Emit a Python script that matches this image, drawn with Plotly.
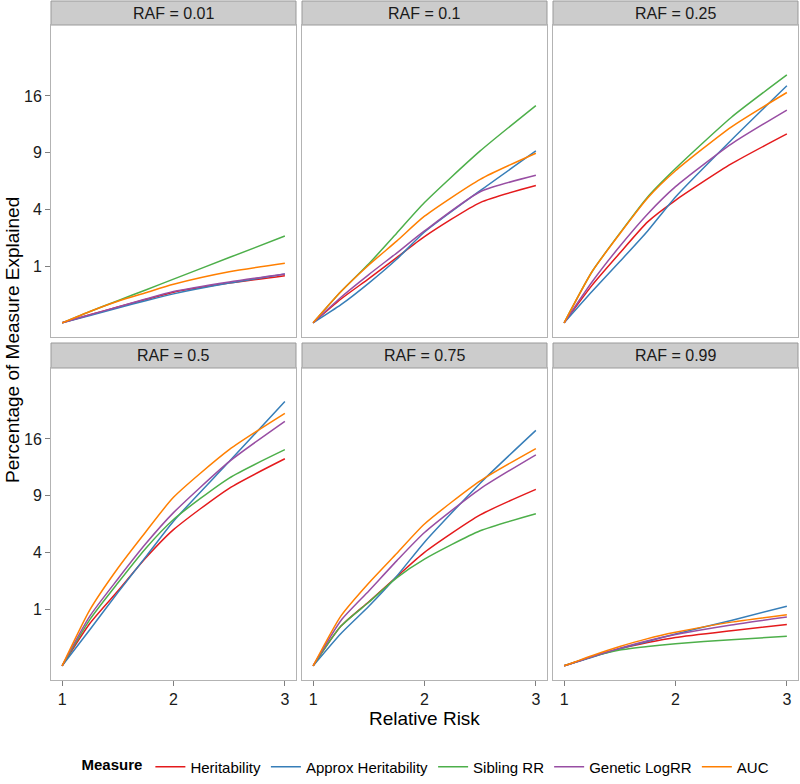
import numpy as np
import plotly.graph_objects as go

# ---- data (percentage of measure explained) ----
relative_risk = [1, 1.25, 1.5, 1.75, 2, 2.5, 3]
raf_labels = ["RAF = 0.01", "RAF = 0.1", "RAF = 0.25", "RAF = 0.5", "RAF = 0.75", "RAF = 0.99"]
measures = ["Heritability", "Approx Heritability", "Sibling RR", "Genetic LogRR", "AUC"]
colors = ["#E41A1C", "#377EB8", "#4DAF4A", "#984EA3", "#FF7F00"]

# one row per RAF panel (0.01, 0.1, 0.25, 0.5, 0.75, 0.99)
heritability = [
    [0, 0.020, 0.078, 0.168, 0.292, 0.490, 0.689],
    [0, 0.176, 0.608, 1.323, 2.310, 4.494, 5.856],
    [0, 0.436, 1.513, 3.168, 4.666, 7.840, 11.089],
    [0, 0.563, 1.742, 3.610, 5.760, 9.797, 13.323],
    [0, 0.490, 1.277, 2.465, 4.000, 7.076, 9.672],
    [0, 0.026, 0.090, 0.168, 0.250, 0.384, 0.533],
]
approx_heritability = [
    [0, 0.017, 0.068, 0.152, 0.260, 0.490, 0.740],
    [0, 0.102, 0.490, 1.254, 2.560, 5.429, 9.181],
    [0, 0.303, 1.166, 2.624, 4.928, 10.368, 17.472],
    [0, 0.410, 1.664, 3.686, 6.503, 12.960, 21.716],
    [0, 0.325, 1.103, 2.496, 4.752, 10.368, 17.223],
    [0, 0.023, 0.090, 0.185, 0.314, 0.640, 1.103],
]
sibling_rr = [
    [0, 0.040, 0.152, 0.336, 0.593, 1.323, 2.341],
    [0, 0.303, 1.082, 2.496, 4.494, 9.181, 14.669],
    [0, 0.810, 2.496, 4.928, 7.398, 13.104, 19.097],
    [0, 0.672, 2.132, 4.285, 6.656, 10.956, 14.516],
    [0, 0.490, 1.254, 2.403, 3.534, 5.664, 7.182],
    [0, 0.026, 0.078, 0.116, 0.152, 0.212, 0.270],
]
genetic_logrr = [
    [0, 0.020, 0.078, 0.176, 0.303, 0.518, 0.740],
    [0, 0.203, 0.723, 1.513, 2.624, 5.336, 6.760],
    [0, 0.518, 1.823, 3.686, 5.760, 9.923, 14.063],
    [0, 0.774, 2.341, 4.623, 7.290, 12.960, 18.576],
    [0, 0.640, 1.742, 3.423, 5.523, 9.734, 13.838],
    [0, 0.026, 0.096, 0.194, 0.303, 0.518, 0.740],
]
auc = [
    [0, 0.040, 0.144, 0.281, 0.462, 0.810, 1.103],
    [0, 0.303, 1.040, 2.074, 3.534, 6.401, 8.940],
    [0, 0.810, 2.465, 4.840, 7.182, 11.903, 16.484],
    [0, 0.980, 2.958, 5.570, 8.821, 14.516, 19.803],
    [0, 0.774, 2.132, 3.920, 6.250, 10.628, 14.669],
    [0, 0.032, 0.116, 0.230, 0.348, 0.593, 0.810],
]
y_tick_values = [1, 4, 9, 16]
x_tick_values = [1, 2, 3]

series = [heritability, approx_heritability, sibling_rr, genetic_logrr, auc]

# ---- layout geometry (pixels) ----
W, H = 800, 784
col_px = [(51, 296), (302, 547), (553, 798)]
row_px = [(25, 337), (368, 680)]      # plot areas (top, bottom)
strip_px = [(1, 25), (343, 368)]      # strip (top, bottom)
FONT = "Liberation Sans, Arial, Helvetica, sans-serif"
BORDER = "#b3b3b3"

def px(x):
    return x / W

def py(y):
    return 1 - y / H

fig = go.Figure()
shapes, annotations = [], []

for p in range(6):
    r, c = divmod(p, 3)
    k = p + 1
    xa = "x" if k == 1 else f"x{k}"
    ya = "y" if k == 1 else f"y{k}"
    for m, name in enumerate(measures):
        fig.add_trace(go.Scatter(
            x=relative_risk, y=np.sqrt(series[m][p]), mode="lines",
            name=name, legendgroup=name, showlegend=(p == 0),
            line=dict(color=colors[m], width=1.5, shape="spline", smoothing=0.6),
            xaxis=xa, yaxis=ya, hoverinfo="skip",
        ))
    x0, x1 = col_px[c]
    y0, y1 = row_px[r]
    fig.layout[f"xaxis{'' if k == 1 else k}"] = dict(
        domain=[px(x0), px(x1)], anchor=ya, range=[0.9, 3.1], automargin=False,
        showgrid=False, zeroline=False, showline=True, mirror=True,
        linecolor=BORDER, linewidth=1,
        tickvals=x_tick_values, ticktext=[str(v) for v in x_tick_values],
        ticks="outside" if r == 1 else "", ticklen=5, tickcolor="#7f7f7f",
        showticklabels=(r == 1), tickfont=dict(size=16, color="#1a1a1a", family=FONT),
    )
    fig.layout[f"yaxis{'' if k == 1 else k}"] = dict(
        domain=[py(y1), py(y0)], anchor=xa, range=[-0.25, 5.25], automargin=False,
        showgrid=False, zeroline=False, showline=True, mirror=True,
        linecolor=BORDER, linewidth=1,
        tickvals=np.sqrt(y_tick_values), ticktext=[str(v) for v in y_tick_values],
        ticks="outside" if c == 0 else "", ticklen=5, tickcolor="#7f7f7f",
        showticklabels=(c == 0), tickfont=dict(size=16, color="#1a1a1a", family=FONT),
    )
    st, sb = strip_px[r]
    shapes.append(dict(type="rect", xref="paper", yref="paper",
                       x0=px(x0), x1=px(x1), y0=py(sb), y1=py(st),
                       fillcolor="#cccccc", line=dict(color="#999999", width=1), layer="below"))
    annotations.append(dict(text=raf_labels[p], xref="paper", yref="paper",
                            x=px((x0 + x1) / 2), y=py((st + sb) / 2),
                            xanchor="center", yanchor="middle", showarrow=False,
                            font=dict(size=16, color="#1a1a1a", family=FONT)))

annotations.append(dict(text="Relative Risk", xref="paper", yref="paper",
                        x=px(424.5), y=py(718), xanchor="center", yanchor="middle",
                        showarrow=False, font=dict(size=19, color="#000000", family=FONT)))
annotations.append(dict(text="Percentage of Measure Explained", xref="paper", yref="paper",
                        x=px(12), y=py(340), xanchor="center", yanchor="middle", textangle=-90,
                        showarrow=False, font=dict(size=19, color="#000000", family=FONT)))

fig.update_layout(
    template="none",
    width=W, height=H, margin=dict(l=0, r=0, t=0, b=0, autoexpand=False),
    paper_bgcolor="white", plot_bgcolor="white",
    shapes=shapes, annotations=annotations,
    font=dict(family=FONT, color="#000000"),
    showlegend=True,
    legend=dict(orientation="h", x=px(427), xanchor="center", y=py(767), yanchor="middle",
                bgcolor="rgba(0,0,0,0)", borderwidth=0,
                title=dict(text="<b>Measure</b>", font=dict(size=15, family=FONT)),
                font=dict(size=15, family=FONT), itemwidth=30, tracegroupgap=0),
)

fig.write_html("out.html", config={"displayModeBar": False},
               post_script="document.body.style.margin='0';document.body.style.padding='0';"
                           "document.body.style.overflow='hidden';")
